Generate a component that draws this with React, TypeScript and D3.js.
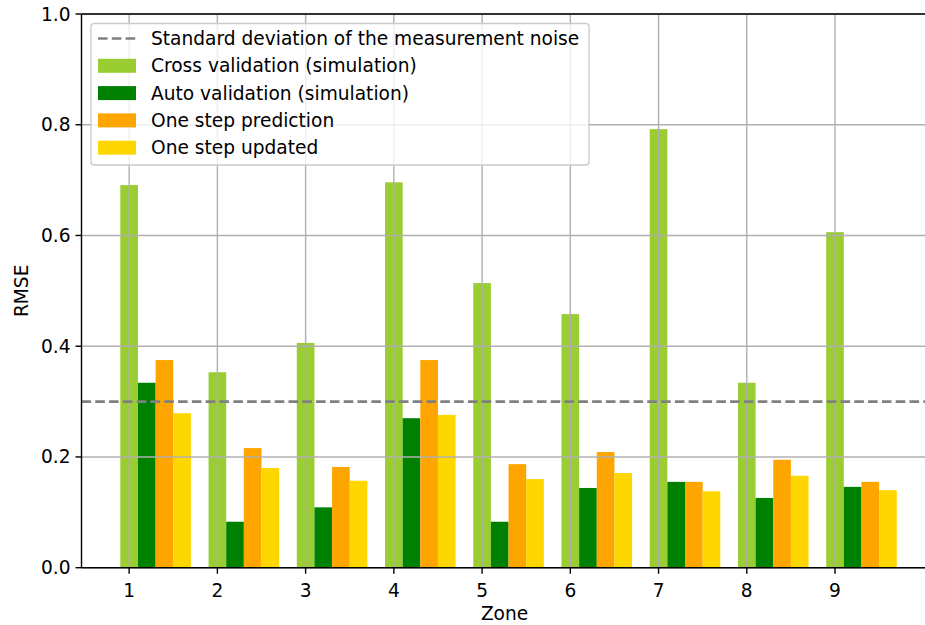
import React from "react";
import * as d3 from "d3";

const zones = [1, 2, 3, 4, 5, 6, 7, 8, 9];
const crossValidation = [0.691, 0.353, 0.406, 0.696, 0.514, 0.458, 0.792, 0.334, 0.606];
const autoValidation = [0.334, 0.083, 0.109, 0.270, 0.083, 0.144, 0.155, 0.126, 0.146];
const oneStepPrediction = [0.375, 0.216, 0.182, 0.375, 0.187, 0.209, 0.155, 0.195, 0.155];
const oneStepUpdated = [0.279, 0.180, 0.157, 0.276, 0.160, 0.171, 0.138, 0.166, 0.140];
const noiseStd = 0.3;
const yTicks = [0.0, 0.2, 0.4, 0.6, 0.8, 1.0];

const series = [
  { label: "Cross validation (simulation)", color: "#9acd32", values: crossValidation },
  { label: "Auto validation (simulation)", color: "#008000", values: autoValidation },
  { label: "One step prediction", color: "#ffa500", values: oneStepPrediction },
  { label: "One step updated", color: "#ffd700", values: oneStepUpdated },
];

const W = 925;
const H = 625;
const left = 81.5;
const right = 935.6;
const top = 14;
const bottom = 567.7;
const barW = 0.2;
const font = "'DejaVu Sans', sans-serif";
const fs = 18.6;

export default function App() {
  const x = d3.scaleLinear().domain([0.46, 10.14]).range([left, right]);
  const y = d3.scaleLinear().domain([0, 1]).range([bottom, top]);
  const bw = x(barW) - x(0);

  const legendItems = [
    { label: "Standard deviation of the measurement noise", kind: "line", color: "#808080" },
    ...series.map((s) => ({ label: s.label, kind: "patch", color: s.color })),
  ];

  return (
    <svg
      width={W}
      height={H}
      style={{ position: "absolute", left: 0, top: 0, background: "#fff" }}
      fontFamily={font}
    >
      {/* bars */}
      {series.map((s, i) =>
        s.values.map((v, j) => (
          <rect
            key={`${i}-${j}`}
            x={x(zones[j] + i * barW - barW / 2)}
            y={y(v)}
            width={bw}
            height={y(0) - y(v)}
            fill={s.color}
          />
        ))
      )}

      {/* grid above the bars */}
      <g stroke="#b0b0b0" strokeWidth={1.4}>
        {zones.map((z) => (
          <line key={`gx${z}`} x1={x(z)} x2={x(z)} y1={top} y2={bottom} />
        ))}
        {yTicks.map((t) => (
          <line key={`gy${t}`} x1={left} x2={right} y1={y(t)} y2={y(t)} />
        ))}
      </g>

      {/* noise level */}
      <line
        x1={left}
        x2={right}
        y1={y(noiseStd)}
        y2={y(noiseStd)}
        stroke="#808080"
        strokeWidth={2.6}
        strokeDasharray="9.6,4.2"
      />

      {/* spines */}
      <g stroke="#000" strokeWidth={1.4} fill="none">
        <line x1={left} x2={left} y1={top} y2={bottom} />
        <line x1={left} x2={right} y1={bottom} y2={bottom} />
        <line x1={left} x2={right} y1={top} y2={top} />
      </g>

      {/* y ticks */}
      {yTicks.map((t) => (
        <g key={`ty${t}`}>
          <line x1={left - 6} x2={left} y1={y(t)} y2={y(t)} stroke="#000" strokeWidth={1.4} />
          <text x={left - 11} y={y(t)} dy="0.35em" textAnchor="end" fontSize={fs}>
            {t.toFixed(1)}
          </text>
        </g>
      ))}

      {/* x ticks */}
      {zones.map((z) => (
        <g key={`tx${z}`}>
          <line x1={x(z)} x2={x(z)} y1={bottom} y2={bottom + 6} stroke="#000" strokeWidth={1.4} />
          <text x={x(z)} y={bottom + 29} textAnchor="middle" fontSize={fs}>
            {z}
          </text>
        </g>
      ))}

      <text x={(left + right) / 2 - 4} y={620} textAnchor="middle" fontSize={fs}>
        Zone
      </text>
      <text
        transform={`translate(28,${(top + bottom) / 2}) rotate(-90)`}
        textAnchor="middle"
        fontSize={fs}
      >
        RMSE
      </text>

      {/* legend */}
      <g>
        <rect
          x={91}
          y={23.5}
          width={498}
          height={141.5}
          rx={3}
          fill="#fff"
          fillOpacity={0.8}
          stroke="#cccccc"
          strokeWidth={1.4}
        />
        {legendItems.map((item, i) => {
          const cy = 38.5 + i * 27.3;
          return (
            <g key={item.label}>
              {item.kind === "line" ? (
                <line
                  x1={98}
                  x2={136}
                  y1={cy}
                  y2={cy}
                  stroke={item.color}
                  strokeWidth={2.6}
                  strokeDasharray="9.6,4.2"
                />
              ) : (
                <rect x={98} y={cy - 7} width={38} height={14} fill={item.color} />
              )}
              <text x={151} y={cy} dy="0.35em" fontSize={fs}>
                {item.label}
              </text>
            </g>
          );
        })}
      </g>
    </svg>
  );
}
